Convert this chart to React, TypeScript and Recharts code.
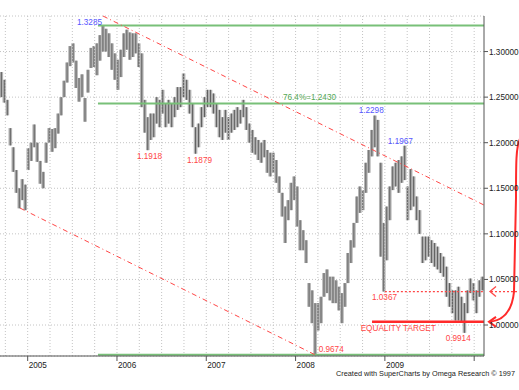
import React from 'react';
import {
  ComposedChart,
  Bar,
  XAxis,
  YAxis,
  CartesianGrid,
  ReferenceLine,
  ReferenceDot,
} from 'recharts';

// weekly-ish bar highs / lows, left to right
const highs = [
  1.2775, 1.269, 1.247, 1.216, 1.195, 1.17, 1.15, 1.16, 1.154, 1.194,
  1.2, 1.22, 1.2, 1.18, 1.168, 1.2, 1.216, 1.215, 1.216, 1.232,
  1.25, 1.268, 1.288, 1.306, 1.309, 1.29, 1.271, 1.275, 1.249, 1.28,
  1.304, 1.306, 1.309, 1.318,
  1.3285, 1.325, 1.32, 1.309, 1.298, 1.291, 1.302, 1.32, 1.324, 1.321,
  1.32, 1.32, 1.309, 1.298, 1.247, 1.228, 1.232, 1.232, 1.25, 1.247,
  1.258, 1.243, 1.247, 1.243, 1.25, 1.261, 1.261, 1.276, 1.269, 1.258,
  1.243, 1.217, 1.221, 1.239, 1.25, 1.258, 1.258, 1.254, 1.243, 1.236,
  1.228, 1.236, 1.228, 1.232, 1.236, 1.239, 1.236, 1.247, 1.239, 1.221,
  1.214, 1.206, 1.203, 1.2, 1.203,
  1.192, 1.189, 1.189, 1.181, 1.163, 1.145, 1.13, 1.137, 1.156, 1.163, 1.152,
  1.115, 1.104, 1.093, 1.046, 1.038, 1.024, 1.024, 1.031, 1.057, 1.061,
  1.053, 1.053, 1.049, 1.042, 1.035, 1.046, 1.079, 1.093, 1.112, 1.141,
  1.152, 1.148, 1.178, 1.192, 1.214, 1.2298,
  1.225, 1.178, 1.112, 1.13, 1.152, 1.174, 1.178, 1.181, 1.185, 1.1967,
  1.152, 1.171, 1.163, 1.141, 1.126, 1.097, 1.097, 1.097, 1.093, 1.09,
  1.086, 1.079, 1.075, 1.064, 1.046, 1.038, 1.038, 1.042, 1.031, 1.024,
  1.038, 1.051, 1.046, 1.038, 1.049,
  1.053,
];

const lows = [
  1.25, 1.244, 1.23, 1.197, 1.168, 1.145, 1.128, 1.137, 1.126, 1.17,
  1.18, 1.195, 1.179, 1.155, 1.15, 1.178, 1.2, 1.19, 1.194, 1.21,
  1.23, 1.25, 1.266, 1.284, 1.288, 1.26, 1.245, 1.25, 1.223, 1.255,
  1.282, 1.283, 1.274, 1.29,
  1.3, 1.3, 1.294, 1.28, 1.269, 1.258, 1.272, 1.294, 1.302, 1.291,
  1.294, 1.298, 1.283, 1.239, 1.211, 1.1918, 1.203, 1.206, 1.221, 1.217,
  1.232, 1.217, 1.221, 1.217, 1.228, 1.236, 1.239, 1.25, 1.247, 1.232,
  1.217, 1.1879, 1.195, 1.217, 1.228, 1.239, 1.239, 1.232, 1.217, 1.206,
  1.203, 1.211, 1.203, 1.211, 1.214, 1.217, 1.221, 1.228, 1.214, 1.2,
  1.189, 1.187, 1.181, 1.178, 1.184,
  1.167, 1.163, 1.167, 1.156, 1.145, 1.119, 1.09, 1.115, 1.126, 1.137, 1.108,
  1.082, 1.082, 1.068, 1.02, 1.002, 0.9674, 0.994, 1.002, 1.031, 1.035,
  1.027, 1.024, 1.024, 1.016, 1.002, 1.02, 1.046, 1.068, 1.085, 1.112,
  1.123, 1.126, 1.145, 1.167, 1.185, 1.195,
  1.185, 1.075, 1.0367, 1.071, 1.115, 1.148, 1.152, 1.145, 1.156, 1.159,
  1.115, 1.126, 1.13, 1.115, 1.1, 1.068, 1.071, 1.075, 1.068, 1.064,
  1.061, 1.057, 1.053, 1.031, 1.02, 1.013, 1.005, 1.005, 1.003, 0.9914,
  1.013, 1.035, 1.027, 1.013, 1.031,
  1.038,
];

// time axis (fractional years)
const firstDate = 2004.69;
const lastDate = 2010.11;
const yearTicks = [2005, 2006, 2007, 2008, 2009, 2010];
const yearLabels = ['2005', '2006', '2007', '2008', '2009', ''];
const quarterLines = [
  2004.75, 2005, 2005.25, 2005.5, 2005.75, 2006, 2006.25, 2006.5, 2006.75,
  2007, 2007.25, 2007.5, 2007.75, 2008, 2008.25, 2008.5, 2008.75, 2009,
  2009.25, 2009.5, 2009.75, 2010,
];
const priceTicks = [1.0, 1.05, 1.1, 1.15, 1.2, 1.25, 1.3];

// retracement levels (green) drawn from late 2005 onward
const fibStart = 2005.787;
const fibLevels = [1.3285, 1.243, 0.9674];

// parallel down channel (red dash-dot)
const upperChannel = [
  { x: 2005.843, y: 1.339 },
  { x: 2010.11, y: 1.1316 },
];
const lowerChannel = [
  { x: 2004.914, y: 1.1283 },
  { x: 2008.217, y: 0.9674 },
];

const equalityLevel = 1.0035;
const equalityStart = 2008.856;
const supportLevel = 1.0367;
const supportStart = 2009.0;
const arrowTop = 1.2;

const BLUE = '#5656ff';
const RED = '#ff4646';
const GREEN = '#54a854';
const FONT = '"Liberation Sans", Arial, sans-serif';

const swingLabels = [
  { text: '1.3285', date: 2005.692, price: 1.3327, color: BLUE },
  { text: '1.1918', date: 2006.364, price: 1.1859, color: RED },
  { text: '1.1879', date: 2006.924, price: 1.1807, color: RED },
  { text: '76.4%=1.2430', date: 2008.156, price: 1.2499, color: GREEN },
  { text: '1.2298', date: 2008.847, price: 1.2355, color: BLUE },
  { text: '1.1967', date: 2009.173, price: 1.202, color: BLUE },
  { text: '1.0367', date: 2008.996, price: 1.0302, color: RED },
  { text: 'EQUALITY TARGET', date: 2009.149, price: 0.9967, color: RED },
  { text: '0.9674', date: 2008.399, price: 0.9737, color: RED },
  { text: '0.9914', date: 2009.821, price: 0.9861, color: RED },
];

const step = (lastDate - firstDate) / highs.length;
const data = highs.map((h, i) => ({
  date: firstDate + (i + 0.5) * step,
  range: [lows[i], h],
}));

function PriceBar(props: any) {
  const { x, y, width, height } = props;
  if (x == null || y == null) return null;
  const top = Math.min(y, y + height);
  const h = Math.max(Math.abs(height), 1);
  const cx = x + width / 2;
  return (
    <g>
      <rect x={cx - 1.8} y={top} width={3.6} height={h} fill="#b2b2b2" />
      <line x1={cx} y1={top} x2={cx} y2={top + h} stroke="#606060" strokeWidth={1} />
    </g>
  );
}

function YearTick({ x, y, index }: any) {
  return (
    <text x={x + 1} y={y + 7} fontSize={8.2} fontFamily={FONT} fill="#222">
      {yearLabels[index] ?? ''}
    </text>
  );
}

function PriceTick({ x, y, payload }: any) {
  return (
    <text x={x} y={y + 3} fontSize={8.2} fontFamily={FONT} fill="#222">
      {Number(payload.value).toFixed(5)}
    </text>
  );
}

function SupportArrow(p: any) {
  const { x1, y1, x2, y2 } = p;
  return (
    <g>
      <line x1={x1} y1={y1} x2={x2} y2={y2} stroke={RED} strokeWidth={1.3} strokeDasharray="2 2" />
      <line x1={x2 + 7} y1={y2} x2={x2 + 36} y2={y2} stroke={RED} strokeWidth={1.3} strokeDasharray="2 2" />
      <polyline
        points={`${x2 + 12},${y2 - 5} ${x2 + 6},${y2} ${x2 + 12},${y2 + 5}`}
        fill="none"
        stroke={RED}
        strokeWidth={1.3}
      />
    </g>
  );
}

function CurvedArrow(p: any) {
  const { x1, y1, y2 } = p;
  const d = `M ${x1 + 36} ${y1 - 4} C ${x1 + 32} ${y1 + 4}, ${x1 + 32} ${y1 + 20}, ${x1 + 32} ${y1 + 55} L ${x1 + 30} ${y2 - 30} Q ${x1 + 27} ${y2 - 2}, ${x1 + 6} ${y2}`;
  return (
    <g>
      <path d={d} fill="none" stroke="#ff2a2a" strokeWidth={2} />
      <polyline
        points={`${x1 + 12},${y2 - 5} ${x1 + 5},${y2} ${x1 + 12},${y2 + 5}`}
        fill="none"
        stroke="#ff2a2a"
        strokeWidth={2}
      />
    </g>
  );
}

export default function App() {
  return (
    <div
      style={{
        position: 'absolute',
        left: 0,
        top: 0,
        width: 519,
        height: 390,
        background: '#fff',
        overflow: 'hidden',
      }}
    >
      <ComposedChart
        width={519}
        height={390}
        data={data}
        margin={{ top: 16, right: 0, bottom: 0, left: 0 }}
      >
        <CartesianGrid vertical={false} stroke="#c4c4c4" strokeDasharray="1 2" />
        {quarterLines.map((q) => (
          <ReferenceLine key={q} x={q} stroke="#c4c4c4" strokeDasharray="1 2" />
        ))}
        <XAxis
          dataKey="date"
          type="number"
          domain={[firstDate, lastDate]}
          allowDataOverflow
          ticks={yearTicks}
          interval={0}
          height={34}
          tickSize={5}
          tickMargin={0}
          stroke="#555"
          tick={<YearTick />}
        />
        <YAxis
          orientation="right"
          domain={[0.966, 1.339]}
          allowDataOverflow
          ticks={priceTicks}
          interval={0}
          width={35}
          tickSize={4}
          tickMargin={1}
          stroke="#555"
          tick={<PriceTick />}
        />
        {fibLevels.map((lv) => (
          <ReferenceLine
            key={lv}
            segment={[
              { x: fibStart, y: lv },
              { x: lastDate, y: lv },
            ]}
            stroke="#78c078"
            strokeWidth={2}
            ifOverflow="visible"
          />
        ))}
        <ReferenceLine
          segment={upperChannel}
          stroke={RED}
          strokeDasharray="5 3 1 3"
          ifOverflow="visible"
        />
        <ReferenceLine
          segment={lowerChannel}
          stroke={RED}
          strokeDasharray="5 3 1 3"
          ifOverflow="visible"
        />
        <Bar dataKey="range" barSize={3} shape={<PriceBar />} isAnimationActive={false} />
        <ReferenceLine
          segment={[
            { x: equalityStart, y: equalityLevel },
            { x: lastDate, y: equalityLevel },
          ]}
          stroke="#ff2a2a"
          strokeWidth={2.5}
          ifOverflow="visible"
        />
        <ReferenceLine
          segment={[
            { x: supportStart, y: supportLevel },
            { x: lastDate, y: supportLevel },
          ]}
          ifOverflow="visible"
          shape={<SupportArrow />}
        />
        <ReferenceLine
          segment={[
            { x: lastDate, y: arrowTop },
            { x: lastDate, y: equalityLevel },
          ]}
          ifOverflow="visible"
          shape={<CurvedArrow />}
        />
        {swingLabels.map((l) => (
          <ReferenceDot
            key={l.text}
            x={l.date}
            y={l.price}
            r={0}
            ifOverflow="visible"
            shape={(p: any) => (
              <text
                x={p.cx}
                y={p.cy + 3}
                textAnchor="middle"
                fontSize={8.2}
                fontFamily={FONT}
                fill={l.color}
              >
                {l.text}
              </text>
            )}
          />
        ))}
      </ComposedChart>
      <svg
        width={519}
        height={20}
        style={{ position: 'absolute', left: 0, top: 368 }}
      >
        <text
          x={336}
          y={8}
          fontSize={7.3}
          fontFamily={FONT}
          fill="#222"
          textLength={179}
          lengthAdjust="spacingAndGlyphs"
        >
          Created with SuperCharts by Omega Research © 1997
        </text>
      </svg>
    </div>
  );
}
